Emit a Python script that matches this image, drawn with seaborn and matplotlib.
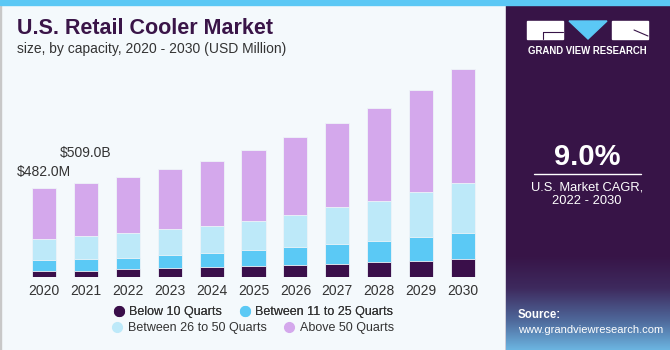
import numpy as np
import pandas as pd
import matplotlib
matplotlib.use("Agg")
import matplotlib.pyplot as plt
from matplotlib.patches import Rectangle, Polygon
from matplotlib.lines import Line2D
import seaborn as sns

years = ["2020", "2021", "2022", "2023", "2024", "2025", "2026", "2027", "2028", "2029", "2030"]
below_10 = [34, 34, 43, 49, 52, 58, 65, 72, 79, 86, 95]
between_11_25 = [58, 63, 61, 72, 79, 86, 95, 104, 113, 127, 142]
between_26_50 = [115, 124, 131, 139, 146, 160, 176, 199, 219, 243, 272]
above_50 = [275, 288, 302, 322, 349, 383, 419, 454, 501, 554, 614]
series_names = ["Below 10 Quarts", "Between 11 to 25 Quarts", "Between 26 to 50 Quarts", "Above 50 Quarts"]
colors = ["#3a0f4a", "#5bc9f5", "#bde9f9", "#d4a8ec"]

sns.set_theme(style="white")
plt.rcParams['font.family'] = ['Liberation Sans', 'DejaVu Sans']

W, H = 670, 350
fig = plt.figure(figsize=(W / 100, H / 100), dpi=100)
fig.patch.set_facecolor("#f4f9fc")

def fx(px):
    return px / W

def fy(py):
    return 1 - py / H

# background overlay axes
bg = fig.add_axes([0, 0, 1, 1])
bg.axis("off")
bg.add_patch(Rectangle((0, 0), 1.2, H, color="#c8c8c8", zorder=1))
# right panel
bg.add_patch(Rectangle((506, 0), W - 506, H, color="#371447", zorder=1))
# bottom gradient in panel
grad = np.linspace(0, 1, 100).reshape(-1, 1)
cmap = matplotlib.colors.LinearSegmentedColormap.from_list(
    "g", [(0, "#371447"), (0.35, "#3e2a5e"), (0.7, "#4f6a9c"), (1.0, "#6bb4e0")])
bg.imshow(grad, extent=(506, W, H, 255), aspect="auto", cmap=cmap, zorder=2, interpolation="bilinear")
bg.set_xlim(0, W)
bg.set_ylim(H, 0)
# top stripe
bg.add_patch(Rectangle((0, 0), W, 5, color="#5bc8f5", zorder=3))

# logo
bg.add_patch(Rectangle((527, 21), 36, 18, color="white", zorder=4))
bg.add_patch(Polygon([(569, 21), (607, 21), (588, 39)], closed=True, color="#5bc8f5", zorder=4))
bg.add_patch(Rectangle((612, 21), 36, 18, color="white", zorder=4))
bg.plot([543, 563], [32, 32], color="#371447", lw=0.8, zorder=5)
bg.plot([543, 543], [32, 39], color="#371447", lw=0.8, zorder=5)
bg.plot([634, 648], [30, 36], color="#371447", lw=0.8, zorder=5)
bg.text(587.5, 51, "GRAND VIEW RESEARCH", color="white", fontsize=6.9, fontweight="bold",
        ha="center", va="center", zorder=5)

bg.text(587, 157, "9.0%", color="white", fontsize=21, fontweight="bold", ha="center", va="center", zorder=5)
bg.plot([534, 641], [173.5, 173.5], color="white", lw=1, zorder=5)
bg.text(587, 188, "U.S. Market CAGR,", color="white", fontsize=9.3, ha="center", va="center", zorder=5)
bg.text(587, 201.5, "2022 - 2030", color="white", fontsize=9.3, ha="center", va="center", zorder=5)
bg.text(518, 315, "Source:", color="white", fontsize=8.3, fontweight="bold", ha="left", va="center", zorder=5)
bg.text(518, 330, "www.grandviewresearch.com", color="white", fontsize=8.0, ha="left", va="center", zorder=5)

# titles
bg.text(17, 29, "U.S. Retail Cooler Market", color="#3a1548", fontsize=15.5, fontweight="bold",
        ha="left", va="center", zorder=5)
bg.text(17, 48.5, "size, by capacity, 2020 - 2030 (USD Million)", color="#333333", fontsize=10,
        ha="left", va="center", zorder=5)

# chart axes
ylim_top = 1200
px_per_unit = 1 / 5.39
ax_bottom = 277
ax_top = ax_bottom - ylim_top * px_per_unit
ax_left, ax_right = 10.5, 496.5
ax = fig.add_axes([fx(ax_left), fy(ax_bottom), (ax_right - ax_left) / W, (ax_bottom - ax_top) / H])
ax.set_facecolor("none")

df = pd.DataFrame({"year": years, "b10": below_10, "b25": between_11_25, "b50": between_26_50, "a50": above_50})
layers = [df.b10, df.b10 + df.b25, df.b10 + df.b25 + df.b50, df.b10 + df.b25 + df.b50 + df.a50]
for i in range(3, -1, -1):
    sns.barplot(x=df.year, y=layers[i], color=colors[i], saturation=1, width=0.573, ax=ax,
                edgecolor="#eef4f8", linewidth=0.6)

ax.set_xlim(-0.8, 10.8)
ax.set_ylim(0, ylim_top)
ax.set_xlabel("")
ax.set_ylabel("")
ax.set_yticks([])
ax.tick_params(axis="x", length=0, labelsize=10, labelcolor="#333333", pad=5)
for s in ax.spines.values():
    s.set_visible(False)

totals = list(layers[3])
ax.annotate("$482.0M", xy=(0, totals[0]), xytext=(fx(17), fy(172)), textcoords="figure fraction",
            fontsize=10, color="#333333", ha="left", va="center")
ax.annotate("$509.0B", xy=(1, totals[1]), xytext=(fx(60), fy(153)), textcoords="figure fraction",
            fontsize=10, color="#333333", ha="left", va="center")

# legend (two rows)
handles = [Line2D([], [], marker="o", linestyle="", markersize=7, markerfacecolor=c, markeredgecolor=c)
           for c in colors]
common = dict(loc="center", ncol=2, frameon=False, fontsize=9, handletextpad=0.4, columnspacing=1.35,
              handlelength=0.9, borderpad=0, labelcolor="#333333")
leg1 = fig.legend(handles[:2], series_names[:2], bbox_to_anchor=(fx(253), fy(312)), **common)
leg2 = fig.legend(handles[2:], series_names[2:], bbox_to_anchor=(fx(253), fy(328.5)), **common)
fig.add_artist(leg1)

fig.savefig("out.png", dpi=100, facecolor=fig.get_facecolor())
